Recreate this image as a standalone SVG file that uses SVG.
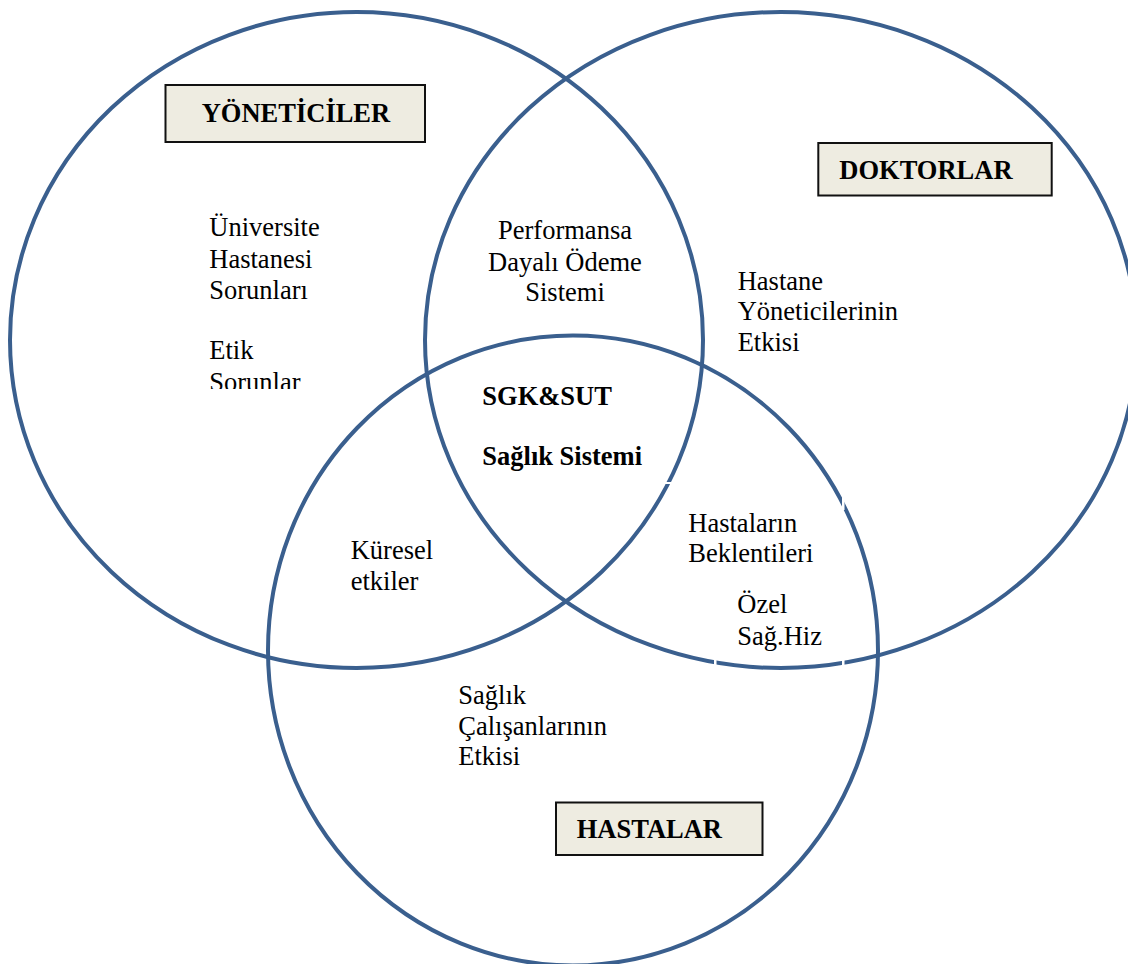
<svg xmlns="http://www.w3.org/2000/svg" width="1128" height="964" viewBox="0 0 1128 964">
  <style>
    .ring { fill: none; stroke: #3A5F8E; stroke-width: 4; }
    .box { fill: #EEECE1; stroke: #111111; stroke-width: 2; }
    .t { font-family: "Liberation Serif", "Times New Roman", serif; font-size: 26.5px; fill: #000000; }
    .b { font-family: "Liberation Serif", "Times New Roman", serif; font-size: 26.5px; font-weight: bold; fill: #000000; }
    .gap { fill: #FFFFFF; }
  </style>
  <defs>
    <clipPath id="clipEtik">
      <rect x="150" y="320" width="300" height="69"/>
    </clipPath>
  </defs>
  <rect x="0" y="0" width="1128" height="964" fill="#FFFFFF"/>

  <g id="circles">
    <g id="circle-yoneticiler"><ellipse class="ring" cx="356.5" cy="340" rx="346.5" ry="328"/></g>
    <g id="circle-doktorlar"><ellipse class="ring" cx="780.8" cy="340" rx="355.8" ry="328"/></g>
    <g id="circle-hastalar"><ellipse class="ring" cx="573" cy="650.5" rx="305" ry="315"/></g>
    <g id="line-gaps">
      <rect class="gap" x="662" y="482" width="12" height="2"/>
      <rect class="gap" x="842" y="492" width="2.5" height="18"/>
      <rect class="gap" x="714" y="654" width="2.5" height="16"/>
      <rect class="gap" x="842" y="655" width="2.5" height="16"/>
    </g>
  </g>

  <g id="node-yoneticiler">
    <rect class="box" x="165.5" y="85" width="259.5" height="57"/>
    <text class="b" x="201.7" y="122">YÖNETİCİLER</text>
  </g>
  <g id="node-doktorlar">
    <rect class="box" x="818.3" y="143" width="233.4" height="52.5"/>
    <text class="b" x="839.3" y="179">DOKTORLAR</text>
  </g>
  <g id="node-hastalar">
    <rect class="box" x="556" y="802.5" width="206.5" height="52.5"/>
    <text class="b" x="576.7" y="838.3">HASTALAR</text>
  </g>

  <g id="region-yoneticiler">
    <text class="t" x="209.3" y="235.7">Üniversite</text>
    <text class="t" x="209.3" y="267.7">Hastanesi</text>
    <text class="t" x="209.3" y="299.3">Sorunları</text>
    <g clip-path="url(#clipEtik)">
      <text class="t" x="209.3" y="359.3">Etik</text>
      <text class="t" x="209.3" y="391">Sorunlar</text>
    </g>
  </g>
  <g id="region-yoneticiler-doktorlar">
    <text class="t" x="565" y="239" text-anchor="middle">Performansa</text>
    <text class="t" x="565" y="270.5" text-anchor="middle">Dayalı Ödeme</text>
    <text class="t" x="565" y="301" text-anchor="middle">Sistemi</text>
  </g>
  <g id="region-doktorlar">
    <text class="t" x="737.7" y="290">Hastane</text>
    <text class="t" x="737.7" y="320">Yöneticilerinin</text>
    <text class="t" x="737.7" y="350.5">Etkisi</text>
  </g>
  <g id="region-center">
    <text class="b" x="482.3" y="405">SGK&amp;SUT</text>
    <text class="b" x="482.3" y="465">Sağlık Sistemi</text>
  </g>
  <g id="region-yoneticiler-hastalar">
    <text class="t" x="350.7" y="559.3">Küresel</text>
    <text class="t" x="350.7" y="590">etkiler</text>
  </g>
  <g id="region-doktorlar-hastalar">
    <text class="t" x="688.3" y="531.7">Hastaların</text>
    <text class="t" x="688.3" y="561.7">Beklentileri</text>
    <text class="t" x="737.3" y="613.3">Özel</text>
    <text class="t" x="737.3" y="645">Sağ.Hiz</text>
  </g>
  <g id="region-hastalar">
    <text class="t" x="458.3" y="704.3">Sağlık</text>
    <text class="t" x="458.3" y="735">Çalışanlarının</text>
    <text class="t" x="458.3" y="765">Etkisi</text>
  </g>
</svg>
